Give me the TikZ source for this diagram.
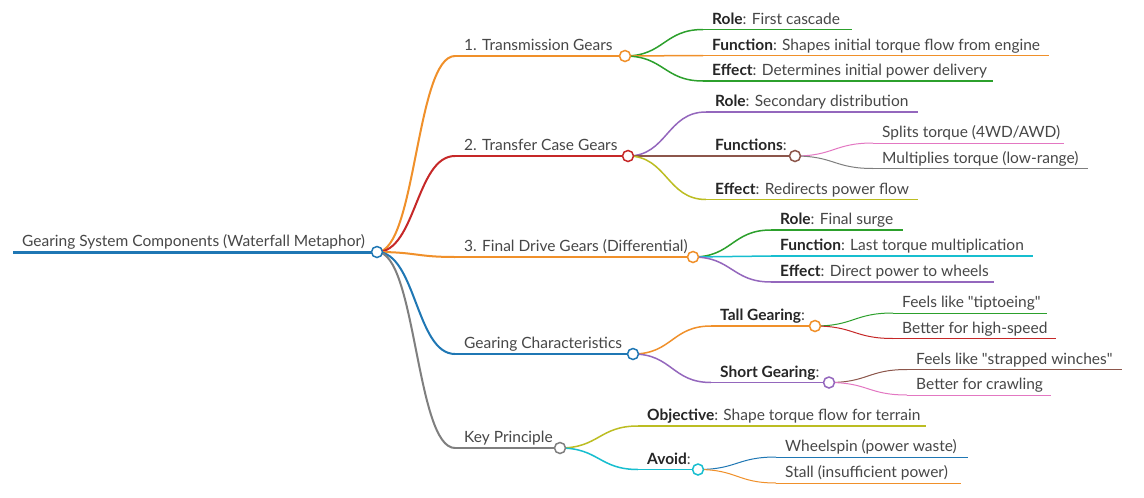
\documentclass[tikz,border=0pt]{standalone}
\usepackage{fontspec}
\setmainfont{Lato}[Ligatures=TeXOff]
\usetikzlibrary{calc}
\definecolor{cblue}{HTML}{1F77B4}
\definecolor{corange}{HTML}{F0902A}
\definecolor{cgreen}{HTML}{2CA02C}
\definecolor{cred}{HTML}{C62828}
\definecolor{cpurple}{HTML}{9467BD}
\definecolor{cbrown}{HTML}{8C564B}
\definecolor{cpink}{HTML}{E377C2}
\definecolor{cgray}{HTML}{7F7F7F}
\definecolor{colive}{HTML}{BCBD22}
\definecolor{ccyan}{HTML}{17BECF}
\definecolor{txt}{HTML}{474747}
\tikzset{
  lbl/.style={anchor=base west, font=\fontsize{15.5}{17}\selectfont, text=txt, inner sep=0pt},
  dot/.style={circle, fill=white, minimum size=11pt, inner sep=0pt, line width=1.5pt},
}
\newcommand{\mmnode}[7]{%
  \coordinate (#1s) at (#2,#4);
  \coordinate (#1e) at (#3,#4);
  \draw[#5, line width=#6] (#1s) -- (#1e);
  \node[lbl] (#1t) at (#2+9,#4-5.5) {#7};}
\newcommand{\mmlink}[4]{%
  \draw[#3, line width=#4] let \p1=(#1), \p2=(#2) in
    (#1) .. controls ({(\x1+\x2)/2},\y1) and ({(\x1+\x2)/2},\y2) .. (#2);}
\newcommand{\bb}[1]{{\bfseries\color{black!85}#1}}
\begin{document}
\begin{tikzpicture}[x=1pt,y=-1pt]
\useasboundingbox[fill=white] (0,0) rectangle (1144,498);
% root
\mmnode{r}{13}{377}{252}{cblue}{3pt}{Gearing System Components (Waterfall Metaphor)}
% main branches
\mmnode{b1}{455}{625}{56}{corange}{2pt}{1. Transmission Gears}
\mmnode{b2}{455}{628}{156}{cred}{2pt}{2. Transfer Case Gears}
\mmnode{b3}{455}{693}{257}{corange}{2pt}{3. Final Drive Gears (Differential)}
\mmnode{b4}{455}{633}{354}{cblue}{2pt}{Gearing Characteristics}
\mmnode{b5}{455}{560}{448}{cgray}{2pt}{Key Principle}
\mmlink{re}{b1s}{corange}{2pt}
\mmlink{re}{b2s}{cred}{2pt}
\mmlink{re}{b3s}{corange}{2pt}
\mmlink{re}{b4s}{cblue}{2pt}
\mmlink{re}{b5s}{cgray}{2pt}
% branch 1
\mmnode{c11}{703}{852}{29.5}{cgreen}{1.5pt}{\bb{Role}: First cascade}
\mmnode{c12}{703}{1049}{55.5}{corange}{1.5pt}{\bb{Function}: Shapes initial torque flow from engine}
\mmnode{c13}{703}{993}{81}{cgreen}{1.5pt}{\bb{Effect}: Determines initial power delivery}
\mmlink{b1e}{c11s}{cgreen}{1.5pt}
\mmlink{b1e}{c12s}{corange}{1.5pt}
\mmlink{b1e}{c13s}{cgreen}{1.5pt}
% branch 2
\mmnode{c21}{706}{918}{112}{cpurple}{1.5pt}{\bb{Role}: Secondary distribution}
\mmnode{c22}{706}{795}{156}{cbrown}{1.5pt}{\bb{Functions}:}
\mmnode{c23}{706}{918}{199.5}{colive}{1.5pt}{\bb{Effect}: Redirects power flow}
\mmlink{b2e}{c21s}{cpurple}{1.5pt}
\mmlink{b2e}{c22s}{cbrown}{1.5pt}
\mmlink{b2e}{c23s}{colive}{1.5pt}
\mmnode{c221}{873}{1064}{143}{cpink}{1pt}{Splits torque (4WD/AWD)}
\mmnode{c222}{873}{1088}{168.5}{cgray}{1pt}{Multiplies torque (low-range)}
\mmlink{c22e}{c221s}{cpink}{1pt}
\mmlink{c22e}{c222s}{cgray}{1pt}
% branch 3
\mmnode{c31}{771}{903}{230}{cgreen}{1.5pt}{\bb{Role}: Final surge}
\mmnode{c32}{771}{1033}{256}{ccyan}{1.5pt}{\bb{Function}: Last torque multiplication}
\mmnode{c33}{771}{994}{282}{cpurple}{1.5pt}{\bb{Effect}: Direct power to wheels}
\mmlink{b3e}{c31s}{cgreen}{1.5pt}
\mmlink{b3e}{c32s}{ccyan}{1.5pt}
\mmlink{b3e}{c33s}{cpurple}{1.5pt}
% branch 4
\mmnode{c41}{711}{815}{326}{corange}{1.5pt}{\bb{Tall Gearing}:}
\mmnode{c42}{711}{829}{382.5}{cpurple}{1.5pt}{\bb{Short Gearing}:}
\mmlink{b4e}{c41s}{corange}{1.5pt}
\mmlink{b4e}{c42s}{cpurple}{1.5pt}
\mmnode{c411}{893}{1047}{313}{cgreen}{1pt}{Feels like "tiptoeing"}
\mmnode{c412}{893}{1056}{338.5}{cred}{1pt}{Better for high-speed}
\mmlink{c41e}{c411s}{cgreen}{1pt}
\mmlink{c41e}{c412s}{cred}{1pt}
\mmnode{c421}{907}{1122}{369.5}{cbrown}{1pt}{Feels like "strapped winches"}
\mmnode{c422}{907}{1051}{395}{cpink}{1pt}{Better for crawling}
\mmlink{c42e}{c421s}{cbrown}{1pt}
\mmlink{c42e}{c422s}{cpink}{1pt}
% branch 5
\mmnode{c51}{638}{926}{426}{colive}{1.5pt}{\bb{Objective}: Shape torque flow for terrain}
\mmnode{c52}{638}{698}{469.5}{ccyan}{1.5pt}{\bb{Avoid}:}
\mmlink{b5e}{c51s}{colive}{1.5pt}
\mmlink{b5e}{c52s}{ccyan}{1.5pt}
\mmnode{c521}{776}{968}{457}{cblue}{1pt}{Wheelspin (power waste)}
\mmnode{c522}{776}{961}{483}{corange}{1pt}{Stall (insufficient power)}
\mmlink{c52e}{c521s}{cblue}{1pt}
\mmlink{c52e}{c522s}{corange}{1pt}
% circles
\node[dot, draw=cblue] (rc) at (re) {};
\node[dot, draw=corange] (b1c) at (b1e) {};
\node[dot, draw=cred] (b2c) at (b2e) {};
\node[dot, draw=corange] (b3c) at (b3e) {};
\node[dot, draw=cblue] (b4c) at (b4e) {};
\node[dot, draw=cgray] (b5c) at (b5e) {};
\node[dot, draw=cbrown] (c22c) at (c22e) {};
\node[dot, draw=corange] (c41c) at (c41e) {};
\node[dot, draw=cpurple] (c42c) at (c42e) {};
\node[dot, draw=ccyan] (c52c) at (c52e) {};
\end{tikzpicture}
\end{document}
